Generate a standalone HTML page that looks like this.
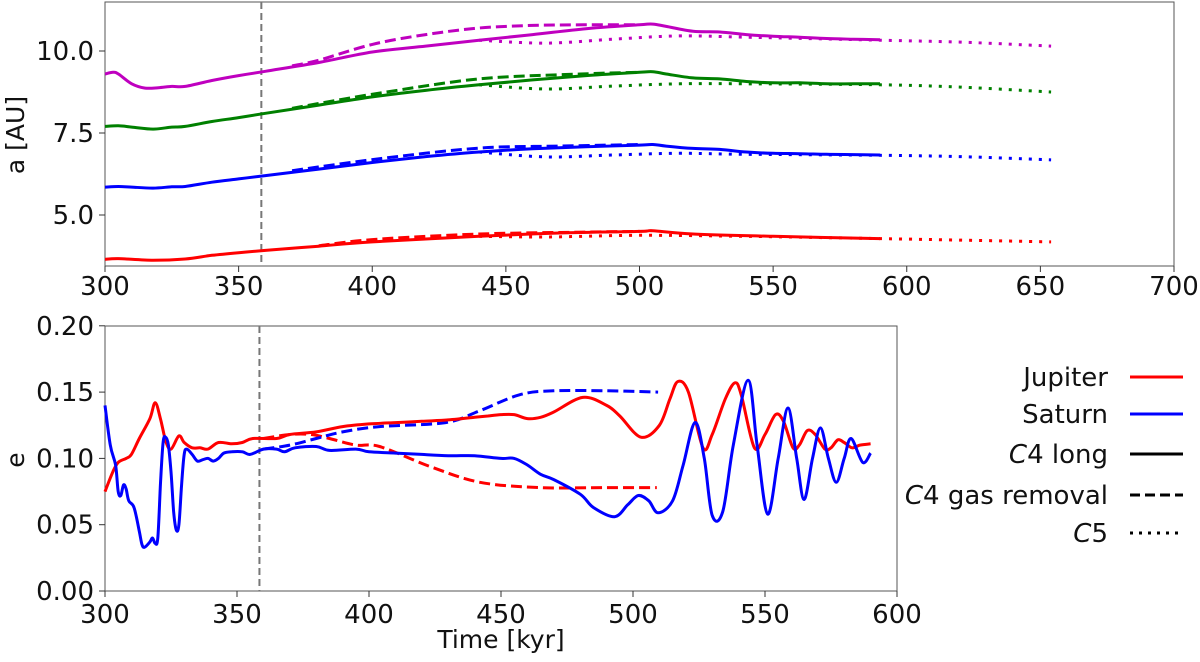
<!DOCTYPE html>
<html><head><meta charset="utf-8"><style>
body{margin:0;background:#fff;}
svg{display:block;font-family:"DejaVu Sans","Liberation Sans",sans-serif;}
</style></head><body>
<svg id="c" width="1200" height="662"></svg>
<script>
// ---- data: top panel (semi-major axis, AU) ----
const jupLongT=[300,305,318,330,340,350,360,380,400,440,470,500,505,520,550,590];
const jupLongA=[3.65,3.67,3.62,3.66,3.77,3.85,3.92,4.05,4.18,4.35,4.45,4.5,4.52,4.42,4.35,4.28];
const jupGasT=[380,400,440,480,500];
const jupGasA=[4.06,4.25,4.42,4.48,4.5];
const jupC5T=[440,465,500,540,590,654];
const jupC5A=[4.35,4.33,4.38,4.35,4.28,4.18];
const satLongT=[300,305,310,318,325,330,340,350,360,380,400,420,440,460,480,500,505,510,520,530,540,550,560,570,580,590];
const satLongA=[5.85,5.87,5.85,5.82,5.86,5.87,6.0,6.1,6.2,6.4,6.6,6.78,6.92,7.02,7.08,7.13,7.15,7.1,7.03,7.0,6.92,6.88,6.87,6.85,6.84,6.83];
const satGasT=[370,403,440,470,500];
const satGasA=[6.35,6.72,7.04,7.1,7.15];
const satC5T=[440,465,490,515,540,590,620,654];
const satC5A=[6.92,6.77,6.83,6.88,6.85,6.82,6.78,6.68];
const p3LongT=[300,305,310,318,325,330,340,350,360,380,400,420,440,460,480,500,505,510,520,530,540,550,560,570,580,590];
const p3LongA=[7.7,7.72,7.68,7.62,7.68,7.7,7.85,7.97,8.1,8.35,8.6,8.8,8.97,9.12,9.25,9.35,9.37,9.3,9.18,9.15,9.07,9.03,9.03,9.0,9.0,9.0];
const p3GasT=[370,380,403,440,478,500];
const p3GasA=[8.25,8.4,8.72,9.15,9.3,9.35];
const p3C5T=[440,465,490,515,540,590,620,654];
const p3C5A=[8.97,8.84,8.93,9.0,9.0,8.97,8.9,8.75];
const p4LongT=[300,303,305,310,315,320,325,330,340,350,360,380,400,420,440,460,480,500,505,510,520,530,540,550,560,570,580,590];
const p4LongA=[9.3,9.35,9.3,9.0,8.87,8.88,8.92,8.92,9.1,9.25,9.38,9.65,9.97,10.15,10.33,10.5,10.68,10.8,10.82,10.75,10.6,10.58,10.5,10.45,10.42,10.38,10.36,10.34];
const p4GasT=[370,380,400,420,440,460,480,500];
const p4GasA=[9.55,9.72,10.2,10.5,10.7,10.78,10.8,10.8];
const p4C5T=[440,465,490,515,540,590,620,654];
const p4C5A=[10.33,10.24,10.36,10.46,10.42,10.33,10.27,10.15];
const topXTicks=[300,350,400,450,500,550,600,650,700];
const topYTicks=[5.0,7.5,10.0];
// ---- data: bottom panel (eccentricity) ----
const jupET=[300,303,305,308,310,313,317,319,321,323,325,328,330,333,336,339,343,348,352,356,365,370,380,390,400,410,420,430,440,445,450,455,460,465,470,481,490,495,503,510,514,517,521,526.5,530,535,538.6,541,546,550,554,557,560.6,563,566,569,572.7,575,577.6,580,583,586,590];
const jupEV=[0.075,0.09,0.097,0.1,0.103,0.115,0.13,0.142,0.13,0.113,0.107,0.117,0.112,0.108,0.108,0.107,0.112,0.111,0.112,0.115,0.115,0.118,0.12,0.124,0.126,0.127,0.128,0.129,0.131,0.132,0.133,0.133,0.13,0.131,0.135,0.146,0.14,0.132,0.116,0.125,0.145,0.158,0.15,0.108,0.118,0.145,0.157,0.148,0.108,0.118,0.133,0.128,0.108,0.11,0.121,0.118,0.107,0.108,0.114,0.112,0.108,0.11,0.111];
const satET=[300,302,304,305,306,307,308,309,311,313,314,315,317,318,319,320,321,322,323,324,325,326,327,328,329,330,331,333,335,337,339,341,343,345,348,352,355,360,365,368,372,380,385,395,400,410,420,430,440,450,455,460,465,470,480,485,493,498,502,506,509.5,515,519,523.5,527,530,534,538,543.6,547,551,555,558.7,562,564.8,568,571,574,577,580,582.6,587,590];
const satEV=[0.14,0.11,0.095,0.075,0.072,0.08,0.077,0.068,0.063,0.045,0.035,0.033,0.037,0.04,0.036,0.04,0.08,0.112,0.116,0.11,0.09,0.06,0.046,0.05,0.08,0.103,0.107,0.103,0.098,0.099,0.1,0.098,0.1,0.104,0.105,0.105,0.103,0.107,0.107,0.105,0.108,0.109,0.106,0.107,0.105,0.104,0.103,0.102,0.102,0.1,0.1,0.095,0.088,0.084,0.073,0.063,0.056,0.065,0.072,0.068,0.059,0.068,0.095,0.127,0.1,0.057,0.06,0.11,0.159,0.11,0.058,0.1,0.138,0.1,0.069,0.1,0.123,0.1,0.082,0.1,0.115,0.097,0.104];
const jupGasET=[360,370,378,385,395,404,423,442,465,490,509];
const jupGasEV=[0.115,0.118,0.118,0.115,0.11,0.109,0.094,0.082,0.078,0.078,0.078];
const satGasET=[360,370,380,390,404,429,442,457,470,490,509.5];
const satGasEV=[0.107,0.11,0.115,0.12,0.124,0.127,0.136,0.148,0.151,0.151,0.15];
const botXTicks=[300,350,400,450,500,550,600];
const botYTicks=[0.00,0.05,0.10,0.15,0.20];
const markerT=358.5;

const NS='http://www.w3.org/2000/svg';
const svg=document.getElementById('c');
function mk(tag,attrs,parent){const e=document.createElementNS(NS,tag);for(const k in attrs)e.setAttribute(k,attrs[k]);(parent||svg).appendChild(e);return e;}
const tx=t=>105+(t-300)*(1174-105)/400;
const ty=a=>51+(10-a)*32.8;
const bx=t=>105+(t-300)*(897-105)/300;
const by=e=>591-e*1326;
function smooth(pts){let d='M'+pts[0][0].toFixed(1)+','+pts[0][1].toFixed(1);
 for(let i=0;i<pts.length-1;i++){const p0=pts[Math.max(0,i-1)],p1=pts[i],p2=pts[i+1],p3=pts[Math.min(pts.length-1,i+2)];
  const c1=[p1[0]+(p2[0]-p0[0])/6,p1[1]+(p2[1]-p0[1])/6],c2=[p2[0]-(p3[0]-p1[0])/6,p2[1]-(p3[1]-p1[1])/6];
  d+='C'+c1[0].toFixed(1)+','+c1[1].toFixed(1)+' '+c2[0].toFixed(1)+','+c2[1].toFixed(1)+' '+p2[0].toFixed(1)+','+p2[1].toFixed(1);}
 return d;}
function series(T,V,fx,fy,color,style,name){
 const pts=T.map((t,i)=>[fx(t),fy(V[i])]);
 const a={d:smooth(pts),fill:'none',stroke:color,'stroke-width':3,'stroke-linejoin':'round'};
 if(style==='dash')a['stroke-dasharray']='11,5';
 if(style==='dot'){a['stroke-dasharray']='3,7';}
 const p=mk('path',a);
 
 
}
const tf=mk('rect',{x:105,y:2,width:1069,height:264,fill:'none',stroke:'#555','stroke-width':1});


topXTicks.forEach(t=>{mk('line',{x1:tx(t),x2:tx(t),y1:266,y2:272,stroke:'#333'});
 const l=mk('text',{x:tx(t),y:295,'text-anchor':'middle','font-size':26,fill:'#111'});l.textContent=t;
 
 });
topYTicks.forEach(v=>{mk('line',{x1:99,x2:105,y1:ty(v),y2:ty(v),stroke:'#333'});
 const l=mk('text',{x:94,y:ty(v)+9,'text-anchor':'end','font-size':26,fill:'#111'});l.textContent=v.toFixed(1);
 
 });
const yl1=mk('text',{x:0,y:0,transform:'translate(24,135) rotate(-90)','text-anchor':'middle','font-size':25,fill:'#111'});yl1.textContent='a [AU]';


const v1=mk('line',{x1:tx(markerT),x2:tx(markerT),y1:2,y2:266,stroke:'#777','stroke-width':2,'stroke-dasharray':'7,4'});


series(jupLongT,jupLongA,tx,ty,'#ff0000','solid','jupiter-a-long');
series(jupGasT,jupGasA,tx,ty,'#ff0000','dash','jupiter-a-gas');
series(jupC5T,jupC5A,tx,ty,'#ff0000','dot','jupiter-a-c5');
series(satLongT,satLongA,tx,ty,'#0000ff','solid','saturn-a-long');
series(satGasT,satGasA,tx,ty,'#0000ff','dash','saturn-a-gas');
series(satC5T,satC5A,tx,ty,'#0000ff','dot','saturn-a-c5');
series(p3LongT,p3LongA,tx,ty,'#008000','solid','planet3-a-long');
series(p3GasT,p3GasA,tx,ty,'#008000','dash','planet3-a-gas');
series(p3C5T,p3C5A,tx,ty,'#008000','dot','planet3-a-c5');
series(p4LongT,p4LongA,tx,ty,'#bf00bf','solid','planet4-a-long');
series(p4GasT,p4GasA,tx,ty,'#bf00bf','dash','planet4-a-gas');
series(p4C5T,p4C5A,tx,ty,'#bf00bf','dot','planet4-a-c5');
const bf=mk('rect',{x:105,y:326,width:792,height:265,fill:'none',stroke:'#555','stroke-width':1});


botXTicks.forEach(t=>{mk('line',{x1:bx(t),x2:bx(t),y1:591,y2:597,stroke:'#333'});
 const l=mk('text',{x:bx(t),y:623,'text-anchor':'middle','font-size':26,fill:'#111'});l.textContent=t;
 
 });
botYTicks.forEach(v=>{mk('line',{x1:99,x2:105,y1:by(v),y2:by(v),stroke:'#333'});
 const l=mk('text',{x:94,y:by(v)+9,'text-anchor':'end','font-size':26,fill:'#111'});l.textContent=v.toFixed(2);
 
 });
const yl2=mk('text',{x:0,y:0,transform:'translate(24,460) rotate(-90)','text-anchor':'middle','font-size':25,fill:'#111'});yl2.textContent='e';


const xl=mk('text',{x:501,y:648,'text-anchor':'middle','font-size':25,fill:'#111'});xl.textContent='Time [kyr]';


const v2=mk('line',{x1:bx(markerT),x2:bx(markerT),y1:326,y2:591,stroke:'#777','stroke-width':2,'stroke-dasharray':'7,4'});


series(jupGasET,jupGasEV,bx,by,'#ff0000','dash','jupiter-e-gas');
series(satGasET,satGasEV,bx,by,'#0000ff','dash','saturn-e-gas');
series(jupET,jupEV,bx,by,'#ff0000','solid','jupiter-e-long');
series(satET,satEV,bx,by,'#0000ff','solid','saturn-e-long');
const legLabels=['Jupiter','Saturn','C4 long','C4 gas removal','C5'];
const legColors=['#ff0000','#0000ff','#000','#000','#000'];
const legStyles=['solid','solid','solid','dash','dot'];
const legY=[377,414,454,495,533];
legLabels.forEach((lab,i)=>{
 const g=mk('g',{});
 
 
 const t=mk('text',{x:1108,y:legY[i]+9,'text-anchor':'end','font-size':26,fill:'#111'},g);
 if(lab.startsWith('C')){const s=mk('tspan',{'font-style':'italic'},t);s.textContent='C';const r=mk('tspan',{},t);r.textContent=lab.slice(1);}else t.textContent=lab;
 const a={x1:1130,x2:1183,y1:legY[i],y2:legY[i],stroke:legColors[i],'stroke-width':3};
 if(legStyles[i]==='dash')a['stroke-dasharray']='10,5';
 if(legStyles[i]==='dot')a['stroke-dasharray']='3,6';
 mk('line',a,g);
});
</script>
</body></html>
